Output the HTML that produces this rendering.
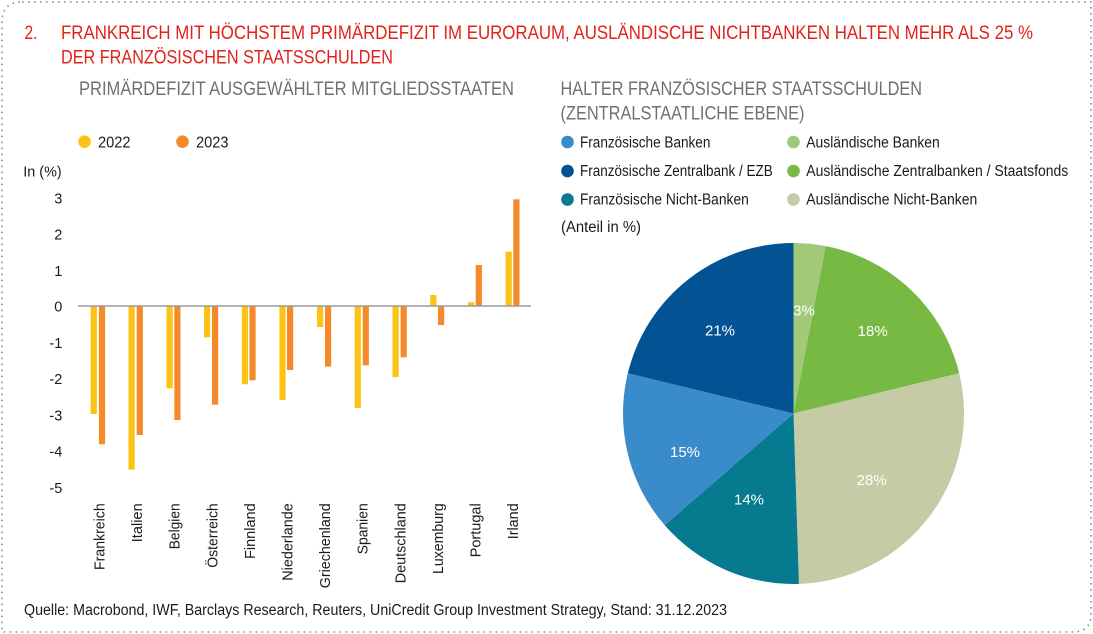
<!DOCTYPE html>
<html>
<head>
<meta charset="utf-8">
<style>
html,body{margin:0;padding:0;background:#fff;}
svg{display:block;}
text{font-family:"Liberation Sans",sans-serif;}
</style>
</head>
<body>
<svg width="1093" height="634" viewBox="0 0 1093 634" xmlns="http://www.w3.org/2000/svg">
  <!-- dotted border -->
  <path d="M22,2 L1091,2 L1091,614 Q1091,632 1073,632 L2,632 L2,22 Q2,2 22,2 Z" fill="none" stroke="#8a8a8a" stroke-width="1.6" stroke-dasharray="1.6 4.4"/>

  <!-- Title -->
  <g fill="#e3211b" font-size="19.5">
    <text x="24.5" y="39" textLength="13" lengthAdjust="spacingAndGlyphs">2.</text>
    <text x="61" y="39" textLength="972" lengthAdjust="spacingAndGlyphs">FRANKREICH MIT HÖCHSTEM PRIMÄRDEFIZIT IM EURORAUM, AUSLÄNDISCHE NICHTBANKEN HALTEN MEHR ALS 25 %</text>
    <text x="61" y="63.3" textLength="332" lengthAdjust="spacingAndGlyphs">DER FRANZÖSISCHEN STAATSSCHULDEN</text>
  </g>

  <!-- Left subtitle -->
  <text x="79" y="95" font-size="19" fill="#707070" textLength="435" lengthAdjust="spacingAndGlyphs">PRIMÄRDEFIZIT AUSGEWÄHLTER MITGLIEDSSTAATEN</text>

  <!-- Left legend -->
  <circle cx="84.5" cy="141.7" r="6.3" fill="#fcc314"/>
  <text x="98" y="147.3" font-size="15.5" fill="#1a1a1a" textLength="32.5" lengthAdjust="spacingAndGlyphs">2022</text>
  <circle cx="182.5" cy="141.7" r="6.3" fill="#f68a28"/>
  <text x="196" y="147.3" font-size="15.5" fill="#1a1a1a" textLength="32.5" lengthAdjust="spacingAndGlyphs">2023</text>

  <!-- Y axis label -->
  <text x="23.3" y="176.7" font-size="15" fill="#1a1a1a" textLength="38.4" lengthAdjust="spacingAndGlyphs">In (%)</text>

  <!-- Tick labels -->
  <g font-size="14.5" fill="#1a1a1a" text-anchor="end">
    <text x="62.3" y="203.3">3</text>
    <text x="62.3" y="239.3">2</text>
    <text x="62.3" y="276">1</text>
    <text x="62.3" y="311.5">0</text>
    <text x="62.3" y="347.8">-1</text>
    <text x="62.3" y="384">-2</text>
    <text x="62.3" y="420.3">-3</text>
    <text x="62.3" y="456.6">-4</text>
    <text x="62.3" y="492.8">-5</text>
  </g>

  <!-- Bars 2022 -->
  <g fill="#fcc314">
    <rect x="90.7" y="306" width="6.2" height="108"/>
    <rect x="128.5" y="306" width="6.2" height="163.7"/>
    <rect x="166.5" y="306" width="6.2" height="82.3"/>
    <rect x="204" y="306" width="6.2" height="31.3"/>
    <rect x="241.8" y="306" width="6.2" height="78.3"/>
    <rect x="279.4" y="306" width="6.2" height="94"/>
    <rect x="317" y="306" width="6.2" height="21"/>
    <rect x="354.7" y="306" width="6.2" height="102"/>
    <rect x="392.5" y="306" width="6.2" height="71"/>
    <rect x="430.2" y="295" width="6.2" height="11"/>
    <rect x="468" y="302.3" width="6.2" height="3.7"/>
    <rect x="505.6" y="251.7" width="6.2" height="54.3"/>
  </g>
  <!-- Bars 2023 -->
  <g fill="#f68a28">
    <rect x="98.9" y="306" width="6.2" height="138.3"/>
    <rect x="136.7" y="306" width="6.2" height="129"/>
    <rect x="174.3" y="306" width="6.2" height="114"/>
    <rect x="212" y="306" width="6.2" height="98.7"/>
    <rect x="249.4" y="306" width="6.2" height="74.3"/>
    <rect x="287" y="306" width="6.2" height="64"/>
    <rect x="325" y="306" width="6.2" height="60.7"/>
    <rect x="362.7" y="306" width="6.2" height="59.3"/>
    <rect x="400.6" y="306" width="6.2" height="51.3"/>
    <rect x="438" y="306" width="6.2" height="19"/>
    <rect x="475.7" y="265" width="6.2" height="41"/>
    <rect x="513.3" y="199.3" width="6.2" height="106.7"/>
  </g>

  <!-- zero axis -->
  <line x1="78" y1="306" x2="531" y2="306" stroke="#9a9a9a" stroke-width="1.6"/>

  <!-- Category labels -->
  <g font-size="14.5" fill="#1a1a1a" text-anchor="end">
    <text transform="translate(104.5,503.3) rotate(-90)" textLength="66.7" lengthAdjust="spacingAndGlyphs">Frankreich</text>
    <text transform="translate(142.1,503.3) rotate(-90)" textLength="39" lengthAdjust="spacingAndGlyphs">Italien</text>
    <text transform="translate(179.7,503.3) rotate(-90)" textLength="46" lengthAdjust="spacingAndGlyphs">Belgien</text>
    <text transform="translate(217.3,503.3) rotate(-90)" textLength="64.4" lengthAdjust="spacingAndGlyphs">Österreich</text>
    <text transform="translate(254.9,503.3) rotate(-90)" textLength="55.7" lengthAdjust="spacingAndGlyphs">Finnland</text>
    <text transform="translate(292.5,503.3) rotate(-90)" textLength="77.4" lengthAdjust="spacingAndGlyphs">Niederlande</text>
    <text transform="translate(330.1,503.3) rotate(-90)" textLength="85" lengthAdjust="spacingAndGlyphs">Griechenland</text>
    <text transform="translate(367.7,503.3) rotate(-90)" textLength="51" lengthAdjust="spacingAndGlyphs">Spanien</text>
    <text transform="translate(405.3,503.3) rotate(-90)" textLength="80" lengthAdjust="spacingAndGlyphs">Deutschland</text>
    <text transform="translate(442.9,503.3) rotate(-90)" textLength="70.7" lengthAdjust="spacingAndGlyphs">Luxemburg</text>
    <text transform="translate(480.5,503.3) rotate(-90)" textLength="54" lengthAdjust="spacingAndGlyphs">Portugal</text>
    <text transform="translate(518.1,503.3) rotate(-90)" textLength="36" lengthAdjust="spacingAndGlyphs">Irland</text>
  </g>

  <!-- Right subtitle -->
  <g font-size="19" fill="#707070">
    <text x="560.5" y="95" textLength="361.5" lengthAdjust="spacingAndGlyphs">HALTER FRANZÖSISCHER STAATSSCHULDEN</text>
    <text x="560.5" y="119.5" textLength="244" lengthAdjust="spacingAndGlyphs">(ZENTRALSTAATLICHE EBENE)</text>
  </g>

  <!-- Right legend -->
  <circle cx="567.5" cy="142" r="6.3" fill="#3a8bc9"/>
  <circle cx="567.5" cy="171" r="6.3" fill="#035394"/>
  <circle cx="567.5" cy="199.5" r="6.3" fill="#067a8f"/>
  <circle cx="793.5" cy="142" r="6.3" fill="#a2c97a"/>
  <circle cx="793.5" cy="171" r="6.3" fill="#78b944"/>
  <circle cx="793.5" cy="199.5" r="6.3" fill="#c5cca5"/>
  <g font-size="15.5" fill="#1a1a1a">
    <text x="580" y="147.3" textLength="130.4" lengthAdjust="spacingAndGlyphs">Französische Banken</text>
    <text x="580" y="176.2" textLength="192.8" lengthAdjust="spacingAndGlyphs">Französische Zentralbank / EZB</text>
    <text x="580" y="204.7" textLength="168.8" lengthAdjust="spacingAndGlyphs">Französische Nicht-Banken</text>
    <text x="806.3" y="147.3" textLength="133.4" lengthAdjust="spacingAndGlyphs">Ausländische Banken</text>
    <text x="806.3" y="176.2" textLength="262" lengthAdjust="spacingAndGlyphs">Ausländische Zentralbanken / Staatsfonds</text>
    <text x="806.3" y="204.7" textLength="171" lengthAdjust="spacingAndGlyphs">Ausländische Nicht-Banken</text>
    <text x="561" y="232" textLength="80" lengthAdjust="spacingAndGlyphs">(Anteil in %)</text>
  </g>

  <!-- Pie -->
  <path d="M793.5,413.5 L793.5,243 A170.5,170.5 0 0 1 825.78,246.08 Z" fill="#a2c97a"/>
  <path d="M793.5,413.5 L825.78,246.08 A170.5,170.5 0 0 1 959.19,373.29 Z" fill="#78b944"/>
  <path d="M793.5,413.5 L959.19,373.29 A170.5,170.5 0 0 1 798.91,583.91 Z" fill="#c5cca5"/>
  <path d="M793.5,413.5 L798.91,583.91 A170.5,170.5 0 0 1 664.65,525.16 Z" fill="#067a8f"/>
  <path d="M793.5,413.5 L664.65,525.16 A170.5,170.5 0 0 1 627.81,373.29 Z" fill="#3a8bc9"/>
  <path d="M793.5,413.5 L627.81,373.29 A170.5,170.5 0 0 1 793.5,243 Z" fill="#035394"/>

  <g font-size="15" fill="#ffffff" text-anchor="middle">
    <text x="804" y="315.5">3%</text>
    <text x="872.7" y="336.2">18%</text>
    <text x="720" y="335.5">21%</text>
    <text x="685" y="457.2">15%</text>
    <text x="749" y="504.5">14%</text>
    <text x="871.7" y="484.8">28%</text>
  </g>

  <!-- Footer -->
  <text x="24" y="615" font-size="15.5" fill="#1a1a1a" textLength="703" lengthAdjust="spacingAndGlyphs">Quelle: Macrobond, IWF, Barclays Research, Reuters, UniCredit Group Investment Strategy, Stand: 31.12.2023</text>
</svg>
</body>
</html>
